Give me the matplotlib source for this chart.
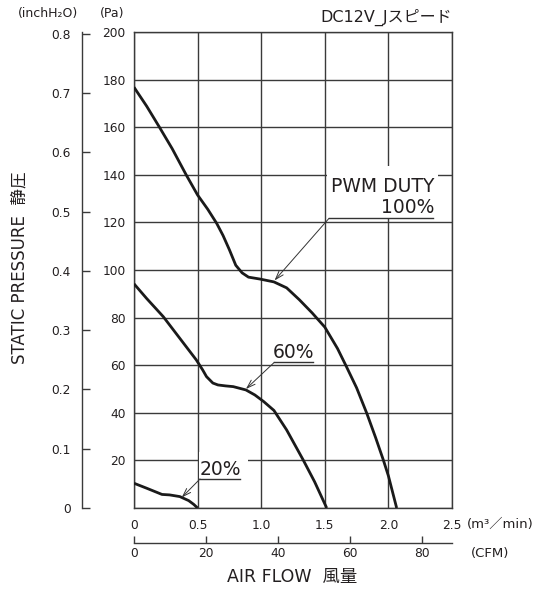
import numpy as np
import matplotlib
matplotlib.use("Agg")
import matplotlib.pyplot as plt
from matplotlib.patches import Rectangle

plt.rcParams['font.family'] = ['DejaVu Sans', 'Noto Sans CJK JP']

# ========================= DATA =========================
# airflow in m3/min, static pressure in Pa
flow_100 = [0.0, 0.1, 0.2, 0.3, 0.41, 0.5, 0.58, 0.65, 0.7, 0.75, 0.8, 0.85, 0.9,
            0.99, 1.1, 1.2, 1.3, 1.4, 1.5, 1.6, 1.67, 1.75, 1.83, 1.9, 1.96, 2.0, 2.065]
pres_100 = [176.8, 168.8, 160.0, 151.0, 140.0, 131.5, 125.5, 119.6, 114.5, 108.5, 102.0, 98.8, 97.0,
            96.2, 95.0, 92.5, 87.5, 82.0, 76.0, 67.0, 59.4, 50.5, 39.8, 29.5, 20.2, 13.5, 0.0]

flow_60 = [0.0, 0.1, 0.23, 0.35, 0.49, 0.54, 0.57, 0.62, 0.66, 0.72, 0.78, 0.88, 0.95,
           1.02, 1.1, 1.2, 1.33, 1.42, 1.515]
pres_60 = [94.2, 88.0, 80.4, 72.0, 62.2, 58.0, 55.2, 52.5, 51.7, 51.3, 51.0, 49.6, 47.5,
           44.7, 41.0, 32.8, 20.2, 11.0, 0.0]

flow_20 = [0.0, 0.1, 0.22, 0.28, 0.36, 0.43, 0.47, 0.5]
pres_20 = [10.4, 8.3, 5.7, 5.5, 4.8, 3.1, 1.5, 0.0]

x_ticks = [0, 0.5, 1.0, 1.5, 2.0, 2.5]
x_labels = ['0', '0.5', '1.0', '1.5', '2.0', '2.5']
pa_ticks = list(range(0, 201, 20))
pa_labels = [''] + [str(v) for v in pa_ticks[1:]]
inch_ticks = [0, 0.1, 0.2, 0.3, 0.4, 0.5, 0.6, 0.7, 0.8]
inch_labels = ['0'] + [f'{v:.1f}' for v in inch_ticks[1:]]
cfm_ticks = [0, 20, 40, 60, 80]

PA_PER_INCH = 249.089
CFM_PER_M3 = 35.3147

ink = '#231f20'
gridc = '#3a3a3a'

# ===================== PLOTTING =====================
W, H = 553, 589
fig = plt.figure(figsize=(W / 100, H / 100), dpi=100)
ax = fig.add_axes([134 / W, (H - 508) / H, 318 / W, 476 / H])

ax.set_xlim(0, 2.5)
ax.set_ylim(0, 200)
ax.set_xticks(x_ticks)
ax.set_xticklabels(x_labels)
ax.set_yticks(pa_ticks)
ax.set_yticklabels(pa_labels)
ax.tick_params(axis='both', length=0, labelsize=8.8, colors=ink)
ax.tick_params(axis='x', pad=8)
ax.tick_params(axis='y', pad=6)
ax.set_axisbelow(True)
ax.grid(True, color=gridc, linewidth=1.0)
for s in ax.spines.values():
    s.set_color(gridc)
    s.set_linewidth(1.0)

# white patches behind the labels (cut the grid)
ax.add_patch(Rectangle((1.52, 122.0), 0.87, 21.7, facecolor='white', edgecolor='none', zorder=1.5))
ax.add_patch(Rectangle((0.51, 12.6), 0.39, 11.0, facecolor='white', edgecolor='none', zorder=1.5))

ax.plot(flow_100, pres_100, color='#1a1a1a', linewidth=2.0, zorder=3, solid_capstyle='butt')
ax.plot(flow_60, pres_60, color='#1a1a1a', linewidth=2.0, zorder=3, solid_capstyle='butt')
ax.plot(flow_20, pres_20, color='#1a1a1a', linewidth=2.0, zorder=3, solid_capstyle='butt')

# annotations: (underline left x, underline right x, y, arrow tip)
arrow_kw = dict(arrowstyle='->,head_length=0.6,head_width=0.2', color='#333333', lw=0.7,
                shrinkA=0, shrinkB=0)
for (x0, x1, y, tip) in [(1.533, 2.351, 121.7, (1.105, 95.6)),
                         (1.103, 1.409, 61.2, (0.88, 50.0)),
                         (0.519, 0.833, 12.2, (0.375, 4.4))]:
    ax.plot([x0, x1], [y, y], color='#333333', linewidth=1.0, zorder=4)
    ax.annotate('', xy=tip, xytext=(x0, y), arrowprops=arrow_kw, zorder=4)

ax.text(2.36, 135.0, 'PWM DUTY', ha='right', va='center', fontsize=13.5, color=ink, zorder=5)
ax.text(2.36, 126.3, '100%', ha='right', va='center', fontsize=13.5, color=ink, zorder=5)
ax.text(1.415, 65.3, '60%', ha='right', va='center', fontsize=13.5, color=ink, zorder=5)
ax.text(0.84, 16.2, '20%', ha='right', va='center', fontsize=13.5, color=ink, zorder=5)

# inchH2O axis on the left
sec_y = ax.secondary_yaxis((82 - 134) / 318,
                           functions=(lambda p: p / PA_PER_INCH, lambda i: i * PA_PER_INCH))
sec_y.set_yticks(inch_ticks)
sec_y.set_yticklabels(inch_labels)
sec_y.tick_params(direction='in', length=6, width=1.0, color=gridc, labelsize=8.8,
                  labelcolor=ink, pad=8)
sec_y.spines['left'].set_color(gridc)
sec_y.spines['left'].set_linewidth(1.0)

# CFM axis below
sec_x = ax.secondary_xaxis((508 - 543) / 476,
                           functions=(lambda m: m * CFM_PER_M3, lambda c: c / CFM_PER_M3))
sec_x.set_xticks(cfm_ticks)
sec_x.set_xticklabels([str(v) for v in cfm_ticks])
sec_x.tick_params(direction='in', length=5, width=1.0, color=gridc, labelsize=8.8,
                  labelcolor=ink, pad=3)
sec_x.spines['bottom'].set_color(gridc)
sec_x.spines['bottom'].set_linewidth(1.0)

# unit texts
fig.text(467 / W, 1 - 524 / H, '(m³／min)', ha='left', va='center', fontsize=9.5, color=ink)
fig.text(471 / W, 1 - 553 / H, '(CFM)', ha='left', va='center', fontsize=9.5, color=ink)
fig.text(18 / W, 1 - 14 / H, '(inchH₂O)', ha='left', va='center', fontsize=9, color=ink)
fig.text(100 / W, 1 - 14 / H, '(Pa)', ha='left', va='center', fontsize=9, color=ink)
fig.text(452 / W, 1 - 17 / H, 'DC12V_Jスピード', ha='right', va='center', fontsize=11.5, color=ink)

fig.text(19 / W, 1 - 268 / H, 'STATIC PRESSURE  静圧', rotation=90, ha='center', va='center',
         fontsize=12, color=ink)
fig.text(292 / W, 1 - 577 / H, 'AIR FLOW  風量', ha='center', va='center', fontsize=12.5,
         color=ink)

fig.savefig('out.png', dpi=100)
